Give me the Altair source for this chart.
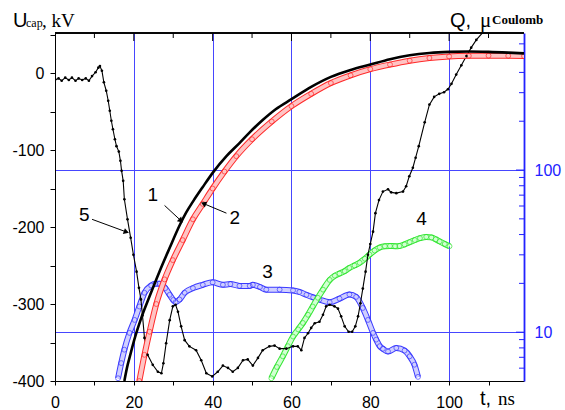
import altair as alt
import pandas as pd

# ---------------- data ----------------
# curve 1: U_cap, kV (black, dense dots)
c1_t = [17.6, 18.3, 19.0, 20.2, 21.9, 24.0, 26.5, 29.1, 31.6, 33.3, 35.0, 37.5, 40.1, 43.5,
        46.8, 49.4, 52.7, 56.0, 60.0, 65.0, 70.0, 75.0, 80.0, 85.0, 90.0, 95.0, 100.0,
        105.0, 110.0, 115.0, 119.0]
c1_u = [-400, -382, -368, -345, -318, -290, -258, -227, -198, -181, -167, -148, -129, -108,
        -91, -77, -61, -47, -34, -18, -5, 4, 11, 18, 23, 26, 27.5,
        28, 27.5, 26.5, 25.5]

# curve 2: red circles
c2_t = [21.4, 22.7, 24.0, 25.7, 27.8, 29.9, 32.4, 35.0, 37.5, 40.0, 43.0, 46.0, 50.0, 55.0,
        60.0, 65.0, 70.0, 75.0, 80.0, 85.0, 90.0, 95.0, 100.0, 105.0, 110.0, 115.0, 119.0]
c2_u = [-400, -366, -336, -300, -268, -243, -217, -190, -170, -150, -128, -108, -86, -63,
        -43, -27, -13, -3, 5, 11, 16, 19.5, 21.5, 22.3, 22.5, 22.3, 22]

# curve 3: blue circles, Q (right log axis)
c3_t = [16.0, 16.8, 17.6, 18.9, 20.2, 21.4, 22.7, 24.4, 25.5, 26.5, 28.0, 29.1, 30.0, 30.6,
        31.6, 32.9, 35.0, 37.5, 40.0, 42.6, 44.5, 46.8, 49.4, 50.2, 52.0, 53.6, 57.0, 60.4,
        62.0, 63.8, 65.5, 67.1, 69.7, 72.2, 74.7, 76.4, 78.1, 79.4, 80.7, 81.5, 82.4, 83.2,
        84.5, 86.6, 88.7, 90.0, 91.2, 92.1]
c3_q = [5.2, 6.45, 7.8, 9.9, 11.9, 14.4, 17.5, 19.4, 19.9, 19.9, 18.7, 17.0, 15.8, 15.3,
        15.9, 17.5, 18.7, 19.6, 20.3, 19.6, 19.8, 19.3, 19.3, 19.6, 19.0, 18.3, 18.3, 18.1,
        17.7, 17.0, 16.4, 15.9, 15.3, 16.1, 17.1, 16.5, 14.1, 11.9, 9.9, 9.0, 8.2, 7.9,
        7.6, 8.0, 7.7, 7.1, 6.3, 5.3]

# curve 4: green circles, Q (right log axis)
c4_t = [54.9, 56.3, 57.8, 59.1, 60.4, 61.7, 62.9, 64.2, 65.4, 66.7, 68.0, 69.7, 71.0, 72.2,
        73.5, 74.7, 76.0, 77.3, 78.6, 79.8, 81.1, 82.4, 83.7, 85.0, 86.3, 87.4, 88.7, 90.0,
        91.3, 92.6, 94.2, 95.5, 96.6, 97.6, 98.9, 100.1]
c4_q = [5.2, 6.1, 7.1, 8.2, 9.4, 10.4, 11.4, 12.8, 14.4, 16.3, 18.3, 21.0, 22.3, 23.0,
        23.8, 24.9, 25.8, 26.8, 28.4, 30.1, 31.9, 33.3, 33.9, 34.0, 33.9, 34.0, 34.8, 35.9,
        37.0, 38.0, 38.7, 38.4, 37.4, 36.3, 35.0, 33.9]

# curve 5: black line with dots
c5_t = [0.0, 0.9, 1.7, 2.6, 3.5, 4.3, 5.2, 6.0, 6.9, 7.8, 8.6, 9.4, 10.3, 11.0, 11.4, 11.9,
        12.4, 13.0, 13.5, 13.9, 14.3, 14.7, 15.2, 15.6, 16.2, 16.6, 16.9, 17.3, 17.6, 18.4,
        19.2, 19.9, 20.7, 21.3, 21.8, 22.2, 22.7, 23.5, 24.8, 26.1, 27.0, 27.5, 28.2, 29.1,
        29.9, 30.6, 31.2, 32.0, 32.9, 34.1, 35.8, 37.1, 38.4, 39.9, 41.3, 42.6, 43.9, 45.1,
        46.4, 47.7, 48.9, 50.2, 51.5, 52.7, 54.4, 55.7, 57.0, 58.7, 60.4, 61.6, 62.5, 63.3,
        64.2, 65.0, 65.9, 67.1, 68.0, 68.8, 69.7, 70.9, 71.8, 72.6, 73.5, 74.5, 75.4, 76.2,
        76.9, 77.5, 78.1, 78.8, 79.4, 80.0, 80.7, 81.3, 82.2, 83.2, 84.5, 85.3, 86.6, 88.3,
        89.1, 89.9, 90.8, 91.5, 92.3, 93.8, 95.0, 96.2, 97.5, 98.7, 99.7, 100.6, 101.8,
        103.1, 104.4, 105.6, 106.9, 108.6]
c5_u = [-9, -7, -10, -6, -9, -6, -10, -7, -9, -7, -10, -4, 1, 7, 9, 3,
        -12, -23, -36, -49, -62, -73, -86, -95, -102, -114, -127, -140, -164, -190,
        -214, -236, -258, -279, -294, -315, -344, -366, -379, -388, -390, -377, -351, -321,
        -303, -301, -310, -329, -347, -355, -360, -373, -390, -394, -388, -380, -383, -388,
        -383, -373, -372, -380, -370, -360, -355, -354, -358, -358, -355, -355, -360, -344,
        -338, -331, -325, -323, -314, -303, -301, -303, -306, -316, -329, -336, -336, -329,
        -316, -299, -280, -258, -236, -222, -206, -182, -165, -154, -151, -155, -156, -154,
        -147, -134, -123, -110, -95, -64, -41, -31, -27, -25, -21, -14, -2,
        10, 22, 33, 43, 53]

# curve labels (data coordinates on the kV axis)
lab_text = ["1", "2", "3", "4", "5"]
lab_t = [24.8, 45.6, 53.9, 93.0, 7.4]
lab_u = [-158, -188, -258, -190, -185]

# arrows: from label to curve
arr_t0 = [27.8, 43.5, 9.4]
arr_u0 = [-172, -182, -190]
arr_t1 = [31.8, 37.9, 17.9]
arr_u1 = [-191, -170, -206]
head_ang = [133, 293, 110]

# tick values
x_ticks = [0, 10, 20, 30, 40, 50, 60, 70, 80, 90, 100, 110]
top_major = [20, 40, 60, 80, 100]
top_minor = [10, 30, 50, 70, 90, 110]
u_ticks = [-400, -350, -300, -250, -200, -150, -100, -50, 0, 50]
q_major = [10, 100]
q_minor = [6, 7, 8, 9, 20, 30, 40, 50, 60, 70, 80, 90, 200, 300, 400, 500, 600]

# ---------------- chart ----------------
W, H = 469, 348
BLUE = "#2222ff"
GRID = "#4646ff"
SANS = "Liberation Sans"
SERIF = "Liberation Serif"

xs = alt.Scale(domain=[0, 119], nice=False, zero=False)
us = alt.Scale(domain=[-400, 52], nice=False, zero=False)
qs = alt.Scale(type="log", domain=[5, 700], nice=False)

x_axis = alt.Axis(
    values=x_ticks,
    labelExpr="datum.value % 20 === 0 ? '' + datum.value : ''",
    tickSize=4,
    grid=True, gridColor=GRID, gridWidth=1,
    gridOpacity={"condition": {"test": "datum.value % 20 === 0 && datum.value > 0 && datum.value < 110",
                               "value": 1}, "value": 0},
    domainColor="black", tickColor="black", labelColor="black",
    labelFont=SANS, labelFontSize=16, labelPadding=9, labelFlush=False, labelOverlap=False,
    title="",
)
u_axis = alt.Axis(
    values=u_ticks,
    labelExpr="datum.value % 100 === 0 ? '' + datum.value : ''",
    tickSize=5, grid=False, domainColor="black", tickColor="black", labelColor="black",
    labelFont=SANS, labelFontSize=16, labelPadding=6, labelOverlap=False, labelFlush=False,
    title="",
)
q_axis = alt.Axis(
    orient="right", values=q_major, labelExpr="'' + datum.value",
    ticks=False, labelPadding=10, labelColor=BLUE, domainColor=BLUE, domainWidth=1.8,
    grid=True, gridColor=GRID, gridWidth=1,
    labelFont=SANS, labelFontSize=16, labelOverlap=False, labelFlush=False, title="",
)

df1 = pd.DataFrame({"t": c1_t, "u": c1_u})
df2 = pd.DataFrame({"t": c2_t, "u": c2_u})
df3 = pd.DataFrame({"t": c3_t, "q": c3_q})
df4 = pd.DataFrame({"t": c4_t, "q": c4_q})
df5 = pd.DataFrame({"t": c5_t, "u": c5_u})
dflab = pd.DataFrame({"t": lab_t, "u": lab_u, "s": lab_text})
dfarr = pd.DataFrame({"t0": arr_t0, "u0": arr_u0, "t1": arr_t1, "u1": arr_u1, "a": head_ang})
dftop1 = pd.DataFrame({"t": top_major})
dftop2 = pd.DataFrame({"t": top_minor})
dfq1 = pd.DataFrame({"q": q_major})
dfq2 = pd.DataFrame({"q": q_minor})


def X():
    return alt.X("t:Q", scale=xs, axis=None)


def U():
    return alt.Y("u:Q", scale=us, axis=None)


def Q():
    return alt.Y("q:Q", scale=qs, axis=None)


# --- axes carriers ---
x_carrier = alt.Chart(df5).mark_line(opacity=0).encode(
    x=alt.X("t:Q", scale=xs, axis=x_axis), y=alt.Y("u:Q", scale=us, axis=u_axis))
q_carrier = alt.Chart(df3).mark_line(opacity=0).encode(
    x=X(), y=alt.Y("q:Q", scale=qs, axis=q_axis))

# --- Q curves ---
c3_band = alt.Chart(df3).mark_line(color="#3a3aff", strokeWidth=6, interpolate="monotone",
                                   clip=True).encode(x=X(), y=Q())
c3_in = alt.Chart(df3).mark_line(color="#cfcfff", strokeWidth=4, interpolate="monotone",
                                 clip=True).encode(x=X(), y=Q())
c3_pts = alt.Chart(df3).mark_point(shape="circle", filled=False, color="#3a3aff", size=24,
                                   strokeWidth=1, clip=True).encode(x=X(), y=Q())
c4_band = alt.Chart(df4).mark_line(color="#33e633", strokeWidth=6, interpolate="monotone",
                                   clip=True).encode(x=X(), y=Q())
c4_in = alt.Chart(df4).mark_line(color="#d2ffd2", strokeWidth=4, interpolate="monotone",
                                 clip=True).encode(x=X(), y=Q())
c4_pts = alt.Chart(df4).mark_point(shape="circle", filled=False, color="#33e633", size=24,
                                   strokeWidth=1, clip=True).encode(x=X(), y=Q())
q_t1 = alt.Chart(dfq1).mark_rule(color=BLUE, strokeWidth=1).encode(
    y=Q(), x=alt.value(W - 8), x2=alt.value(W))
q_t2 = alt.Chart(dfq2).mark_rule(color=BLUE, strokeWidth=1).encode(
    y=Q(), x=alt.value(W - 5), x2=alt.value(W))

# --- kV curves ---
c5_line = alt.Chart(df5).mark_line(color="black", strokeWidth=1.1, clip=True).encode(
    x=X(), y=U())
c5_pts = alt.Chart(df5).mark_point(shape="circle", filled=True, color="black", size=7,
                                   opacity=1, clip=True).encode(x=X(), y=U())
c2_band = alt.Chart(df2).mark_line(color="#ff2a2a", strokeWidth=6, interpolate="monotone",
                                   clip=True).encode(x=X(), y=U())
c2_in = alt.Chart(df2).mark_line(color="#ffc4c4", strokeWidth=4, interpolate="monotone",
                                 clip=True).encode(x=X(), y=U())
c2_pts = alt.Chart(df2).mark_point(shape="circle", filled=False, color="#ff2a2a", size=24,
                                   strokeWidth=1, clip=True).encode(x=X(), y=U())
c1_line = alt.Chart(df1).mark_line(color="black", strokeWidth=2.6, interpolate="monotone",
                                   clip=True).encode(x=X(), y=U())

labels = alt.Chart(dflab).mark_text(font=SANS, fontSize=19, color="black", align="center",
                                    baseline="middle").encode(x=X(), y=U(), text="s:N")
arrows = alt.Chart(dfarr).mark_rule(color="black", strokeWidth=1).encode(
    x=alt.X("t0:Q", scale=xs, axis=None), y=alt.Y("u0:Q", scale=us, axis=None),
    x2="t1:Q", y2="u1:Q")
heads = alt.Chart(dfarr).mark_point(shape="triangle", filled=True, color="black", size=38,
                                    opacity=1).encode(
    x=alt.X("t1:Q", scale=xs, axis=None), y=alt.Y("u1:Q", scale=us, axis=None),
    angle=alt.Angle("a:Q", scale=None))

top_frame = alt.Chart(dftop1).mark_rule(color="black", strokeWidth=1).encode(
    x=alt.value(0), x2=alt.value(W), y=alt.value(0))
top_t1 = alt.Chart(dftop1).mark_rule(color="black", strokeWidth=1).encode(
    x=X(), y=alt.value(0), y2=alt.value(8))
top_t2 = alt.Chart(dftop2).mark_rule(color="black", strokeWidth=1).encode(
    x=X(), y=alt.value(0), y2=alt.value(5))


def txt(s, x, y, size, font, weight="normal", color="black"):
    return alt.Chart(dftop1).transform_filter("datum.t === 20").mark_text(
        text=s, font=font, fontSize=size, fontWeight=weight, color=color,
        align="left", baseline="alphabetic").encode(x=alt.value(x), y=alt.value(y))


titles = [
    txt("U", -42, -6, 20, SANS),
    txt("cap", -29, -6, 12, SERIF),
    txt(", kV", -13, -6, 19, SERIF),
    txt("Q,", 395, -6, 20, SANS),
    txt("\u03bc", 425, -6, 21, SERIF),
    txt("Coulomb", 437, -9, 13, SERIF, "bold"),
    txt("t,", 425, 372, 20, SANS),
    txt("ns", 443, 372, 19, SERIF),
]

chart = alt.layer(
    x_carrier, q_carrier,
    c3_band, c3_in, c3_pts, c4_band, c4_in, c4_pts, q_t1, q_t2,
    c5_line, c2_band, c2_in, c2_pts, c1_line, c5_pts, labels, arrows, heads,
    top_frame, top_t1, top_t2, *titles,
).resolve_scale(y="independent").resolve_axis(x="independent", y="independent").properties(
    width=W, height=H, autosize="none",
    padding={"left": 55, "top": 33, "right": 41, "bottom": 29},
    background="white",
).configure_view(stroke=None)

chart.save("out.html", embed_options={"renderer": "svg", "actions": False})
